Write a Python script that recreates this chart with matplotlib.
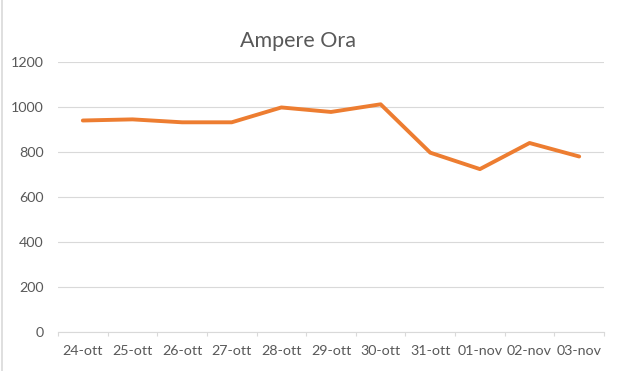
import matplotlib
matplotlib.use("Agg")
import matplotlib.pyplot as plt
from matplotlib.lines import Line2D

# ── Dati ─────────────────────────────────────────────────────────────────────
giorni = ["24-ott", "25-ott", "26-ott", "27-ott", "28-ott", "29-ott",
          "30-ott", "31-ott", "01-nov", "02-nov", "03-nov"]
ampere_ora = [940, 945, 932, 932, 998, 978, 1012, 797, 724, 840, 780]
y_ticks = [0, 200, 400, 600, 800, 1000, 1200]

TEXT = "#595959"
GRID = "#D9D9D9"
ORANGE = "#ED7D31"

plt.rcParams["font.family"] = ["Lato", "DejaVu Sans"]

fig = plt.figure(figsize=(6.22, 3.71), dpi=100)
ax = fig.add_axes([58 / 622, 1 - 332 / 371, 546 / 622, 270 / 371])

x = list(range(len(giorni)))
ax.plot(x, ampere_ora, color=ORANGE, lw=2.8, solid_joinstyle="round",
        solid_capstyle="round", zorder=3)

ax.set_xlim(-0.5, len(giorni) - 0.5)
ax.set_ylim(0, 1200)
ax.set_yticks(y_ticks)
ax.set_xticks(x)
ax.set_xticklabels(giorni)
ax.set_xticks([i - 0.5 for i in range(len(giorni) + 1)], minor=True)

ax.grid(axis="y", color=GRID, lw=0.8)
ax.set_axisbelow(True)
for s in ["top", "right", "left"]:
    ax.spines[s].set_visible(False)
ax.spines["bottom"].set_color(GRID)
ax.spines["bottom"].set_linewidth(0.8)

ax.tick_params(axis="y", length=0, pad=10.5, labelsize=10.3, labelcolor=TEXT)
ax.tick_params(axis="x", which="major", length=0, pad=9.5, labelsize=10.3,
               labelcolor=TEXT)
ax.tick_params(axis="x", which="minor", length=3, width=0.8, color=GRID)

fig.text(298.5 / 622, 1 - 41 / 371, "Ampere Ora", ha="center", va="center",
         fontsize=15.5, color=TEXT)

# bordo sinistro dell'area grafico
fig.add_artist(Line2D([1.5 / 622, 1.5 / 622], [0, 1], color=GRID, lw=1.2,
                      transform=fig.transFigure))

fig.savefig("out.png", dpi=100)
